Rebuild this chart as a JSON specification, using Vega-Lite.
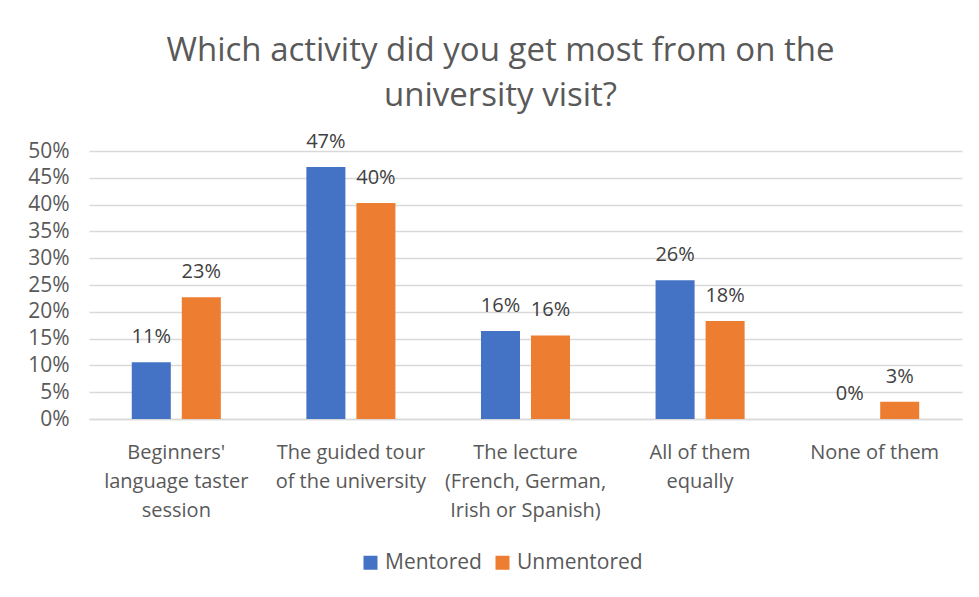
{
  "$schema": "https://vega.github.io/schema/vega-lite/v6.json",
  "autosize": "none",
  "width": 873,
  "height": 268,
  "padding": {"left": 89, "top": 151, "right": 17, "bottom": 178},
  "background": "white",
  "title": {
    "text": ["Which activity did you get most from on the", "university visit?"],
    "font": "Open Sans",
    "fontSize": 33,
    "fontWeight": "normal",
    "color": "#595959",
    "lineHeight": 45,
    "offset": 19,
    "dx": -25,
    "anchor": "middle"
  },
  "data": {
    "values": [
      {"activity": "Beginners'|language taster|session", "group": "Mentored", "share": 0.106},
      {"activity": "Beginners'|language taster|session", "group": "Unmentored", "share": 0.227},
      {"activity": "The guided tour|of the university", "group": "Mentored", "share": 0.47},
      {"activity": "The guided tour|of the university", "group": "Unmentored", "share": 0.403},
      {"activity": "The lecture|(French, German,|Irish or Spanish)", "group": "Mentored", "share": 0.164},
      {"activity": "The lecture|(French, German,|Irish or Spanish)", "group": "Unmentored", "share": 0.156},
      {"activity": "All of them|equally", "group": "Mentored", "share": 0.259},
      {"activity": "All of them|equally", "group": "Unmentored", "share": 0.183},
      {"activity": "None of them", "group": "Mentored", "share": 0.0},
      {"activity": "None of them", "group": "Unmentored", "share": 0.032}
    ]
  },
  "encoding": {
    "x": {
      "field": "activity",
      "type": "nominal",
      "sort": null,
      "title": null,
      "scale": {"paddingInner": 0.49, "paddingOuter": 0.245},
      "axis": {
        "labelAngle": 0,
        "labelExpr": "split(datum.label, '|')",
        "labelFont": "Open Sans",
        "labelFontSize": 20,
        "labelColor": "#595959",
        "labelLineHeight": 29,
        "labelPadding": 23,
        "ticks": false,
        "domainColor": "#D9D9D9",
        "domainWidth": 1.5,
        "labelLimit": 300
      }
    },
    "xOffset": {
      "field": "group",
      "type": "nominal",
      "scale": {"paddingInner": 0.22, "paddingOuter": 0}
    },
    "y": {
      "field": "share",
      "type": "quantitative",
      "title": null,
      "scale": {"domain": [0, 0.5], "nice": false},
      "axis": {
        "values": [0, 0.05, 0.1, 0.15, 0.2, 0.25, 0.3, 0.35, 0.4, 0.45, 0.5],
        "format": ".0%",
        "domain": false,
        "ticks": false,
        "labelFont": "Open Sans",
        "labelFontSize": 21,
        "labelColor": "#595959",
        "labelPadding": 20,
        "gridColor": "#D9D9D9",
        "gridWidth": 1.5
      }
    },
    "color": {
      "field": "group",
      "type": "nominal",
      "title": null,
      "scale": {"domain": ["Mentored", "Unmentored"], "range": ["#4472C4", "#ED7D31"]},
      "legend": {
        "orient": "none",
        "direction": "horizontal",
        "legendX": 271,
        "legendY": 401,
        "symbolType": "square",
        "symbolSize": 196,
        "symbolStrokeWidth": 0,
        "labelFont": "Open Sans",
        "labelFontSize": 21,
        "labelColor": "#595959",
        "columnPadding": 10,
        "symbolOpacity": 1
      }
    }
  },
  "layer": [
    {"mark": {"type": "bar"}},
    {
      "mark": {"type": "text", "baseline": "alphabetic", "dy": -19, "font": "Open Sans", "fontSize": 20, "color": "#404040"},
      "encoding": {
        "text": {"field": "share", "type": "quantitative", "format": ".0%"},
        "color": {"value": "#404040"}
      }
    }
  ],
  "config": {"view": {"stroke": null}}
}
